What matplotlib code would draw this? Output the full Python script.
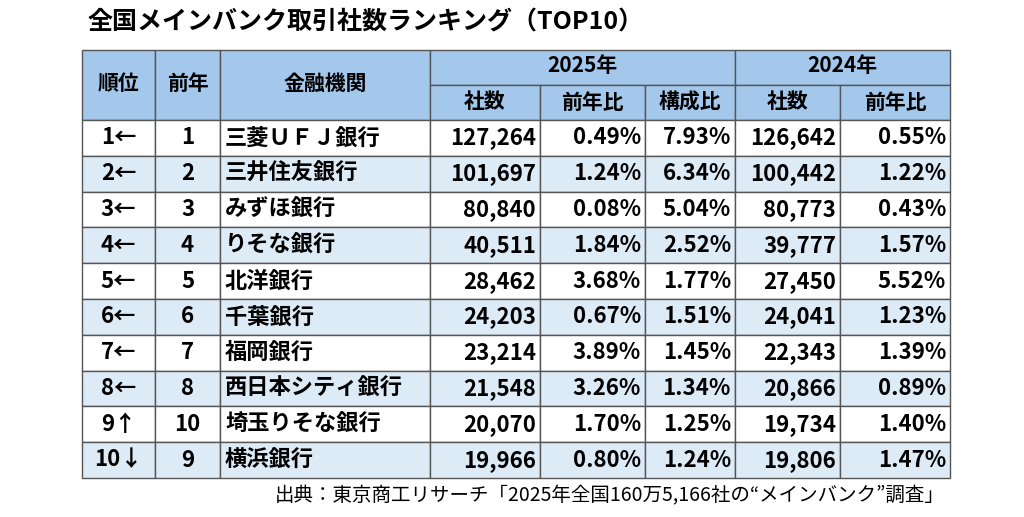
import matplotlib.pyplot as plt
from matplotlib.patches import Rectangle

plt.rcParams['font.family'] = ['Noto Sans CJK JP', 'DejaVu Sans']

title = "全国メインバンク取引社数ランキング（TOP10）"
source = "出典：東京商工リサーチ「2025年全国160万5,166社の“メインバンク”調査」"
ranks = ["1←", "2←", "3←", "4←", "5←", "6←", "7←", "8←", "9↑", "10↓"]
prev_ranks = ["1", "2", "3", "4", "5", "6", "7", "8", "10", "9"]
banks = ["三菱ＵＦＪ銀行", "三井住友銀行", "みずほ銀行", "りそな銀行", "北洋銀行",
         "千葉銀行", "福岡銀行", "西日本シティ銀行", "埼玉りそな銀行", "横浜銀行"]
count_2025 = ["127,264", "101,697", "80,840", "40,511", "28,462",
              "24,203", "23,214", "21,548", "20,070", "19,966"]
yoy_2025 = ["0.49%", "1.24%", "0.08%", "1.84%", "3.68%",
            "0.67%", "3.89%", "3.26%", "1.70%", "0.80%"]
share_2025 = ["7.93%", "6.34%", "5.04%", "2.52%", "1.77%",
              "1.51%", "1.45%", "1.34%", "1.25%", "1.24%"]
count_2024 = ["126,642", "100,442", "80,773", "39,777", "27,450",
              "24,041", "22,343", "20,866", "19,734", "19,806"]
yoy_2024 = ["0.55%", "1.22%", "0.43%", "1.57%", "5.52%",
            "1.23%", "1.39%", "0.89%", "1.40%", "1.47%"]

HEAD = "#a4c8ec"
ALT = "#ddebf7"
EDGE = "#555555"

fig = plt.figure(figsize=(10.24, 5.17), dpi=100)
ax = fig.add_axes([0, 0, 1, 1])
ax.set_xlim(0, 1024)
ax.set_ylim(517, 0)
ax.axis("off")

xs = [82, 155, 220, 430, 540, 645, 735, 840, 950]  # column edges in px
y_top, y_mid, y_head = 50, 85, 120
row_h = 35.8

def cell(x0, x1, y0, y1, color):
    ax.add_patch(Rectangle((x0, y0), x1 - x0, y1 - y0, facecolor=color,
                           edgecolor=EDGE, linewidth=1.0))

# header
cell(xs[0], xs[1], y_top, y_head, HEAD)
cell(xs[1], xs[2], y_top, y_head, HEAD)
cell(xs[2], xs[3], y_top, y_head, HEAD)
cell(xs[3], xs[6], y_top, y_mid, HEAD)
cell(xs[6], xs[8], y_top, y_mid, HEAD)
for i in range(3, 8):
    cell(xs[i], xs[i + 1], y_mid, y_head, HEAD)
hkw = dict(ha="center", va="center", fontsize=15, fontweight="bold")
ax.text((xs[0] + xs[1]) / 2, 83, "順位", **hkw)
ax.text((xs[1] + xs[2]) / 2, 83, "前年", **hkw)
ax.text((xs[2] + xs[3]) / 2, 83, "金融機関", **hkw)
ax.text((xs[3] + xs[6]) / 2, 66, "2025年", **hkw)
ax.text((xs[6] + xs[8]) / 2, 66, "2024年", **hkw)
for i, lab in enumerate(["社数", "前年比", "構成比", "社数", "前年比"]):
    ax.text((xs[3 + i] + xs[4 + i]) / 2, 102, lab, **hkw)

# body rows
kw = dict(va="center", fontsize=16, fontweight="bold")
for r in range(len(banks)):
    y0 = y_head + r * row_h
    color = ALT if r % 2 else "white"
    for i in range(8):
        cell(xs[i], xs[i + 1], y0, y0 + row_h, color)
    yc = y0 + row_h / 2
    ax.text((xs[0] + xs[1]) / 2, yc, ranks[r], ha="center", **kw)
    ax.text((xs[1] + xs[2]) / 2, yc, prev_ranks[r], ha="center", **kw)
    ax.text(xs[2] + 5, yc, banks[r], ha="left", **kw)
    vals = [count_2025[r], yoy_2025[r], share_2025[r], count_2024[r], yoy_2024[r]]
    for i, v in enumerate(vals):
        ax.text(xs[4 + i] - 4, yc, v, ha="right", **kw)

ax.text(88, 23, title, ha="left", va="center", fontsize=18, fontweight="bold")
ax.text(945, 496, source, ha="right", va="center", fontsize=14)

fig.savefig("out.png")
plt.close(fig)
